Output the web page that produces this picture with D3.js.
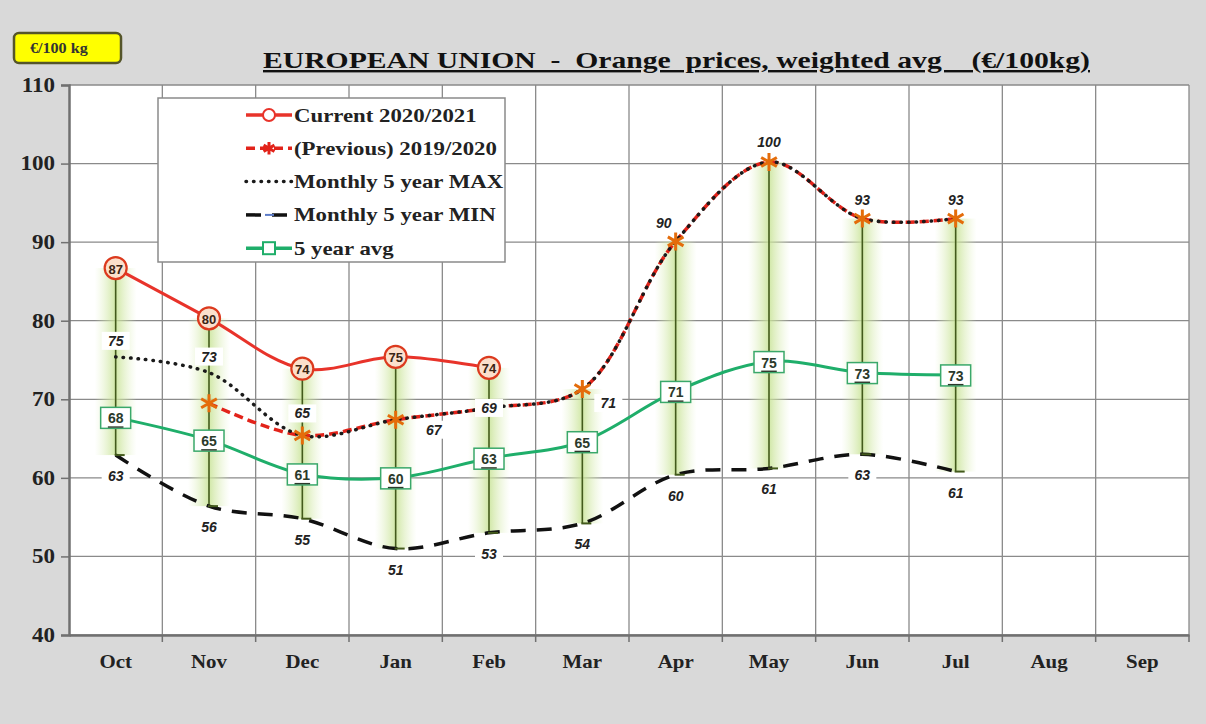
<!DOCTYPE html>
<html>
<head>
<meta charset="utf-8">
<script src="https://cdn.jsdelivr.net/npm/d3@7"></script>
<style>
  body { margin: 0; background: #d9d9d9; }
  svg { display: block; }
</style>
</head>
<body>
<div id="chart"></div>
<script>
// data
const months = ["Oct", "Nov", "Dec", "Jan", "Feb", "Mar", "Apr", "May", "Jun", "Jul", "Aug", "Sep"];
const current = [86.7, 80.3, 73.9, 75.4, 74.0, null, null, null, null, null, null, null];
const previous = [null, 69.5, 65.4, 67.4, 68.9, 71.3, 90.1, 100.2, 93.0, 93.0, null, null];
const max5 = [75.4, 73.4, 65.4, 67.4, 68.9, 71.3, 90.1, 100.2, 93.0, 93.0, null, null];
const min5 = [62.9, 56.4, 54.8, 51.0, 53.0, 54.2, 60.4, 61.2, 63.0, 60.8, null, null];
const avg5 = [67.7, 64.8, 60.5, 60.0, 62.5, 64.6, 71.0, 74.8, 73.4, 73.1, null, null];
const yTicks = [40, 50, 60, 70, 80, 90, 100, 110];

// label placement for the MAX series (dx, dy from the point)
const maxLabelShift = [[0, -16], [0, -16], [0, -22], [38, 10], [0, 0], [26, 14], [-12, -18], [0, -20], [0, -19], [0, -19]];

const W = 1206, H = 724;
const margin = {top: 85, right: 17, bottom: 89, left: 69};
const width = W - margin.left - margin.right;
const height = H - margin.top - margin.bottom;

const svg = d3.select("#chart").append("svg")
    .attr("width", W)
    .attr("height", H);

svg.append("rect").attr("width", W).attr("height", H).attr("fill", "#d9d9d9");

// the source picture is a little stretched sideways: widen text to match
function widen(sel, k) {
    sel.each(function() {
        const len = this.getComputedTextLength();
        d3.select(this).attr("textLength", len * k).attr("lengthAdjust", "spacingAndGlyphs");
    });
}

const defs = svg.append("defs");
const grad = defs.append("linearGradient").attr("id", "glow").attr("x1", "0%").attr("x2", "100%");
grad.append("stop").attr("offset", "0%").attr("stop-color", "#e0f0c0").attr("stop-opacity", 0);
grad.append("stop").attr("offset", "50%").attr("stop-color", "#c8e396").attr("stop-opacity", 0.85);
grad.append("stop").attr("offset", "100%").attr("stop-color", "#e0f0c0").attr("stop-opacity", 0);

// unit box
svg.append("rect")
    .attr("x", 14).attr("y", 33).attr("width", 107).attr("height", 30)
    .attr("rx", 5)
    .attr("fill", "#ffff00").attr("stroke", "#55552a").attr("stroke-width", 2.5);
svg.append("text")
    .attr("x", 30).attr("y", 53)
    .style("font", "bold 14px 'Liberation Serif'")
    .attr("fill", "#333")
    .text("€/100 kg")
    .call(widen, 1.15);

// title
svg.append("text")
    .attr("x", 263).attr("y", 68)
    .attr("xml:space", "preserve")
    .style("white-space", "pre")
    .style("font", "bold 24px 'Liberation Serif'")
    .style("text-decoration", "underline")
    .attr("fill", "#111")
    .attr("textLength", 827).attr("lengthAdjust", "spacingAndGlyphs")
    .text("EUROPEAN UNION  -  Orange  prices, weighted avg    (€/100kg)");

const g = svg.append("g").attr("transform", `translate(${margin.left},${margin.top})`);

const x = d3.scaleBand().domain(months).range([0, width]);
const y = d3.scaleLinear().domain([40, 110]).range([height, 0]);
const cx = m => x(m) + x.bandwidth() / 2;

g.append("rect").attr("width", width).attr("height", height).attr("fill", "#fff");

// grid
g.append("g")
    .selectAll("line")
    .data(yTicks)
    .join("line")
    .attr("x1", 0).attr("x2", width)
    .attr("y1", d => y(d)).attr("y2", d => y(d))
    .attr("stroke", "#8a8a8a").attr("stroke-width", 1.3);
g.append("g")
    .selectAll("line")
    .data(months.slice(1).concat(["end"]))
    .join("line")
    .attr("x1", d => d === "end" ? width : x(d)).attr("x2", d => d === "end" ? width : x(d))
    .attr("y1", 0).attr("y2", height)
    .attr("stroke", "#8a8a8a").attr("stroke-width", 1.3);

// axes
const yAxis = g.append("g")
    .call(d3.axisLeft(y).tickValues(yTicks).tickSize(8).tickPadding(6).tickFormat(d3.format("d")));
yAxis.select(".domain").attr("stroke", "#707070").attr("stroke-width", 2.5);
yAxis.selectAll(".tick line").attr("stroke", "#707070").attr("stroke-width", 1.5);
yAxis.selectAll("text")
    .style("font", "bold 20px 'Liberation Serif'").attr("fill", "#222")
    .call(widen, 1.15);

const xAxis = g.append("g")
    .attr("transform", `translate(0,${height})`)
    .call(d3.axisBottom(x).tickSize(0).tickPadding(20));
xAxis.select(".domain").attr("stroke", "#707070").attr("stroke-width", 2.5);
xAxis.selectAll("text")
    .style("font", "bold 19px 'Liberation Serif'").attr("fill", "#222")
    .call(widen, 1.1);
g.append("g")
    .selectAll("line")
    .data(months.slice(1).concat(["end"]))
    .join("line")
    .attr("x1", d => d === "end" ? width : x(d)).attr("x2", d => d === "end" ? width : x(d))
    .attr("y1", height).attr("y2", height + 7)
    .attr("stroke", "#707070").attr("stroke-width", 1.5);

// high-low ranges
const ranges = months.map((m, i) => {
    const vals = [current[i], previous[i], max5[i], min5[i], avg5[i]].filter(v => v != null);
    return vals.length ? {m, hi: d3.max(vals), lo: d3.min(vals)} : null;
}).filter(d => d);

g.append("g")
    .selectAll("rect")
    .data(ranges)
    .join("rect")
    .attr("x", d => cx(d.m) - 21)
    .attr("width", 42)
    .attr("y", d => y(d.hi))
    .attr("height", d => y(d.lo) - y(d.hi))
    .attr("fill", "url(#glow)");

g.append("g")
    .selectAll("line")
    .data(ranges)
    .join("line")
    .attr("x1", d => cx(d.m)).attr("x2", d => cx(d.m))
    .attr("y1", d => y(d.hi)).attr("y2", d => y(d.lo))
    .attr("stroke", "#435a1c").attr("stroke-width", 1.6);

// series lines
function pts(arr) {
    return months.map((m, i) => ({m, v: arr[i]})).filter(d => d.v != null);
}
const line = d3.line()
    .x(d => cx(d.m))
    .y(d => y(d.v))
    .curve(d3.curveCatmullRom.alpha(0.5));

g.append("path").datum(pts(min5)).attr("d", line)
    .attr("fill", "none").attr("stroke", "#111").attr("stroke-width", 3.5)
    .attr("stroke-dasharray", "15,11");
g.append("path").datum(pts(avg5)).attr("d", line)
    .attr("fill", "none").attr("stroke", "#1fae6a").attr("stroke-width", 3);
g.append("path").datum(pts(previous)).attr("d", line)
    .attr("fill", "none").attr("stroke", "#e2231a").attr("stroke-width", 3.5)
    .attr("stroke-dasharray", "9,5");
g.append("path").datum(pts(max5)).attr("d", line)
    .attr("fill", "none").attr("stroke", "#1a1a1a").attr("stroke-width", 3.5)
    .attr("stroke-linecap", "round")
    .attr("stroke-dasharray", "0.5,7");
g.append("path").datum(pts(current)).attr("d", line)
    .attr("fill", "none").attr("stroke", "#e8332a").attr("stroke-width", 3);

// min markers
g.append("g")
    .selectAll("line")
    .data(pts(min5))
    .join("line")
    .attr("x1", d => cx(d.m) - 1).attr("x2", d => cx(d.m) + 9)
    .attr("y1", d => y(d.v)).attr("y2", d => y(d.v))
    .attr("stroke", "#435a1c").attr("stroke-width", 2);

// previous markers
const star = d3.symbol().type(d3.symbolAsterisk).size(230);
g.append("g")
    .selectAll("path")
    .data(pts(previous))
    .join("path")
    .attr("transform", d => `translate(${cx(d.m)},${y(d.v)})`)
    .attr("d", star)
    .attr("fill", "none").attr("stroke", "#e46c0a").attr("stroke-width", 3);

const fmt = d3.format(".0f");
const labelFont = "italic bold 14px 'Liberation Sans'";

function addLabel(parent, px, py, txt, opts = {}) {
    const t = parent.append("text")
        .attr("x", px).attr("y", py)
        .attr("text-anchor", "middle")
        .attr("dominant-baseline", "central")
        .style("font", opts.font || labelFont)
        .attr("fill", opts.color || "#222")
        .text(txt);
    if (opts.underline) t.style("text-decoration", "underline");
    return t;
}

const labels = g.append("g");

// MAX labels
pts(max5).forEach(d => {
    const [dx, dy] = maxLabelShift[months.indexOf(d.m)] || [0, -16];
    labels.append("rect")
        .attr("x", cx(d.m) + dx - 14).attr("y", y(d.v) + dy - 9)
        .attr("width", 28).attr("height", 18).attr("fill", "#fff");
    addLabel(labels, cx(d.m) + dx, y(d.v) + dy, fmt(d.v));
});

// MIN labels
pts(min5).forEach(d => {
    labels.append("rect")
        .attr("x", cx(d.m) - 14).attr("y", y(d.v) + 12)
        .attr("width", 28).attr("height", 18).attr("fill", "#fff");
    addLabel(labels, cx(d.m), y(d.v) + 21, fmt(d.v));
});

// 5 year avg boxes
pts(avg5).forEach(d => {
    labels.append("rect")
        .attr("x", cx(d.m) - 15).attr("y", y(d.v) - 10)
        .attr("width", 30).attr("height", 21)
        .attr("fill", "#fff").attr("stroke", "#3aa86a").attr("stroke-width", 1.5);
    addLabel(labels, cx(d.m), y(d.v) + 1, fmt(d.v),
        {font: "bold 14px 'Liberation Sans'", color: "#2b3a2b", underline: true});
});

// current circles
pts(current).forEach(d => {
    labels.append("circle")
        .attr("cx", cx(d.m)).attr("cy", y(d.v)).attr("r", 11)
        .attr("fill", "#fbe0cc").attr("stroke", "#dc3a1e").attr("stroke-width", 2.2);
    addLabel(labels, cx(d.m), y(d.v) + 1, fmt(d.v),
        {font: "bold 13px 'Liberation Sans'", color: "#3a2414"});
});

// legend
const lg = svg.append("g").attr("transform", "translate(158,98)");
lg.append("rect").attr("width", 347).attr("height", 164)
    .attr("fill", "#fff").attr("stroke", "#8a8a8a").attr("stroke-width", 1.5);

const legendItems = [
    {name: "Current 2020/2021", color: "#e8332a", dash: null, marker: "circle"},
    {name: "(Previous) 2019/2020", color: "#e2231a", dash: "9,5", marker: "star"},
    {name: "Monthly 5 year MAX", color: "#1a1a1a", dash: "0.5,7", marker: null},
    {name: "Monthly 5 year MIN", color: "#111", dash: "15,11", marker: "arrow"},
    {name: "5 year avg", color: "#1fae6a", dash: null, marker: "square"}
];
legendItems.forEach((it, i) => {
    const yy = 17 + i * 33.3;
    const row = lg.append("g").attr("transform", `translate(0,${yy})`);
    row.append("line")
        .attr("x1", 88).attr("x2", 134).attr("y1", 0).attr("y2", 0)
        .attr("stroke", it.color).attr("stroke-width", 3.5)
        .attr("stroke-linecap", it.marker === null ? "round" : "butt")
        .attr("stroke-dasharray", it.dash);
    if (it.marker === "circle") {
        row.append("circle").attr("cx", 111).attr("cy", 0).attr("r", 6)
            .attr("fill", "#fff").attr("stroke", it.color).attr("stroke-width", 2);
    } else if (it.marker === "star") {
        row.append("path").attr("transform", "translate(111,0)")
            .attr("d", d3.symbol().type(d3.symbolAsterisk).size(110))
            .attr("fill", "none").attr("stroke", "#e2231a").attr("stroke-width", 3);
    } else if (it.marker === "square") {
        row.append("rect").attr("x", 105).attr("y", -6).attr("width", 12).attr("height", 12)
            .attr("fill", "#fff").attr("stroke", it.color).attr("stroke-width", 2);
    } else if (it.marker === "arrow") {
        row.append("line").attr("x1", 107).attr("x2", 116).attr("y1", 0).attr("y2", 0)
            .attr("stroke", "#5b7bc8").attr("stroke-width", 2);
    }
    row.append("text")
        .attr("x", 136).attr("y", 0)
        .attr("dominant-baseline", "central")
        .style("font", "bold 19px 'Liberation Serif'")
        .attr("fill", "#222")
        .text(it.name)
        .call(widen, 1.2);
});
</script>
</body>
</html>
